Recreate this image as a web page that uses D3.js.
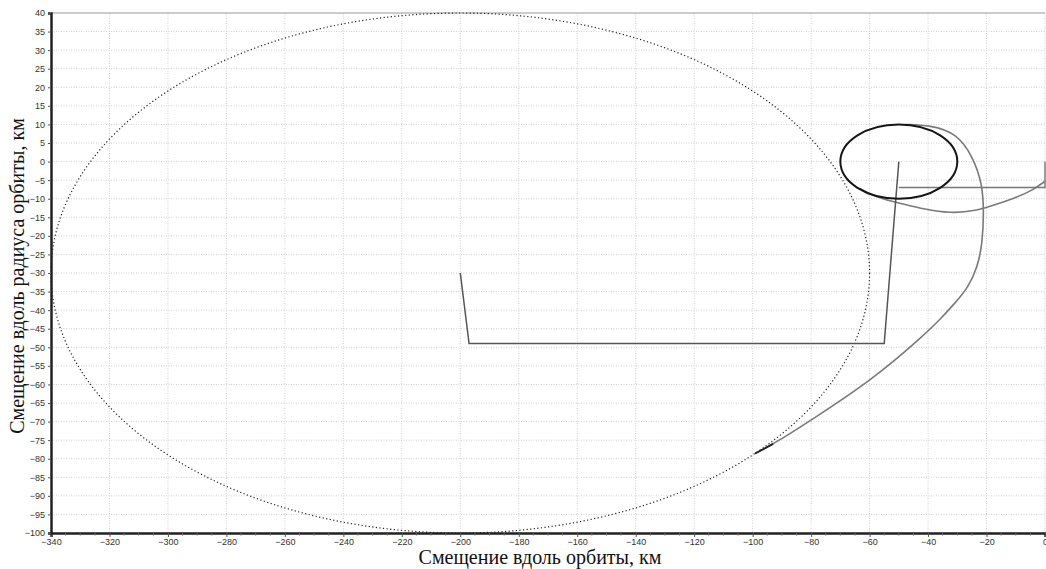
<!DOCTYPE html>
<html>
<head>
    <meta charset="utf-8">
    <title>Смещение</title>
    <style>
        body { margin: 0; background: #fff; }
        .tick text { font-family: "Liberation Sans", Arial, sans-serif; font-size: 9px; fill: #333; }
        .title { font-family: "Liberation Serif", "Times New Roman", serif; font-size: 20px; fill: #111; }
    </style>
</head>
<script src="https://d3js.org/d3.v7.js"></script>
<body>
    <div id="chart"></div>
</body>

<script>

// tick values
var xTicks = [-340, -320, -300, -280, -260, -240, -220, -200, -180, -160, -140, -120, -100, -80, -60, -40, -20, 0];
var yTicks = [40, 35, 30, 25, 20, 15, 10, 5, 0, -5, -10, -15, -20, -25, -30, -35, -40, -45, -50,
              -55, -60, -65, -70, -75, -80, -85, -90, -95, -100];

// large dotted guide ellipse and small solid ellipse (centre, semi-axes in km)
var guideEllipse = { cx: -200, cy: -30, rx: 140, ry: 70 };
var targetEllipse = { cx: -50, cy: 0, rx: 20, ry: 10 };

// transfer path (dark grey)
var transferPath = [[-200, -30], [-197, -49], [-55, -49], [-50, 0]];
// short path at the right end
var endPath = [[-50, -7], [0, -7], [0, 0]];

// big grey arc, from top of small ellipse down to (-100,-79)
var bigArc = [[-47.9, 10.0], [-39.3, 9.8], [-30.1, 7.6], [-24.6, 1.2], [-21.5, -5.9],
              [-20.9, -13.1], [-21.4, -22.0], [-23.1, -28.5], [-26.3, -33.9], [-30.9, -38.2],
              [-35.3, -42.0], [-42.0, -47.2], [-59.2, -58.8], [-79.6, -69.4], [-91.7, -75.5],
              [-99.2, -78.6]];
// dark start piece of that arc
var arcStart = [[-99.2, -78.6], [-96, -77.3], [-93, -76.0]];
// lower grey arc, from small ellipse to x = 0
var lowArc = [[-63.5, -7.2], [-61.6, -8.0], [-56.5, -9.9], [-49.6, -11.2], [-41.1, -12.9], [-32.5, -13.9],
              [-24.0, -13.4], [-15.4, -11.2], [-9.6, -9.6], [-4.2, -7.7], [0, -5.3]];

var width = 1046, height = 569;
var margin = { left: 51, right: 1, top: 13, bottom: 36 };

var svg = d3.select('#chart').append('svg')
    .attr('width', width)
    .attr('height', height);

var x = d3.scaleLinear().domain([-340, 0]).range([margin.left, width - margin.right]);
var y = d3.scaleLinear().domain([-100, 40]).range([height - margin.bottom, margin.top]);

// grid
svg.append('g').selectAll('line')
    .data(xTicks.slice(1))
    .enter().append('line')
    .attr('x1', d => x(d)).attr('x2', d => x(d))
    .attr('y1', y(40)).attr('y2', y(-100))
    .attr('stroke', '#d0d0d0').attr('stroke-dasharray', '1,1.5');

svg.append('g').selectAll('line')
    .data(yTicks.slice(1))
    .enter().append('line')
    .attr('x1', x(-340)).attr('x2', x(0))
    .attr('y1', d => y(d)).attr('y2', d => y(d))
    .attr('stroke', '#d0d0d0').attr('stroke-dasharray', '1,1.5');

// top border
svg.append('line')
    .attr('x1', x(-340)).attr('x2', x(0))
    .attr('y1', y(40)).attr('y2', y(40))
    .attr('stroke', '#999').attr('stroke-width', 1);

// dotted guide ellipse
svg.append('ellipse')
    .attr('cx', x(guideEllipse.cx)).attr('cy', y(guideEllipse.cy))
    .attr('rx', x(guideEllipse.cx + guideEllipse.rx) - x(guideEllipse.cx))
    .attr('ry', y(guideEllipse.cy) - y(guideEllipse.cy + guideEllipse.ry))
    .attr('fill', 'none').attr('stroke', '#222')
    .attr('stroke-width', 1.2).attr('stroke-dasharray', '1.2,2.4');

var line = d3.line().x(d => x(d[0])).y(d => y(d[1]));
var smooth = d3.line().x(d => x(d[0])).y(d => y(d[1])).curve(d3.curveBasis);

svg.append('path').attr('d', smooth(bigArc))
    .attr('fill', 'none').attr('stroke', '#7a7a7a').attr('stroke-width', 1.6);
svg.append('path').attr('d', smooth(lowArc))
    .attr('fill', 'none').attr('stroke', '#7a7a7a').attr('stroke-width', 1.6);
svg.append('path').attr('d', smooth(arcStart))
    .attr('fill', 'none').attr('stroke', '#222').attr('stroke-width', 1.8);

svg.append('path').attr('d', line(endPath))
    .attr('fill', 'none').attr('stroke', '#777').attr('stroke-width', 1.4);
svg.append('path').attr('d', line(transferPath))
    .attr('fill', 'none').attr('stroke', '#555').attr('stroke-width', 1.5);

// small solid ellipse
svg.append('ellipse')
    .attr('cx', x(targetEllipse.cx)).attr('cy', y(targetEllipse.cy))
    .attr('rx', x(targetEllipse.cx + targetEllipse.rx) - x(targetEllipse.cx))
    .attr('ry', y(targetEllipse.cy) - y(targetEllipse.cy + targetEllipse.ry))
    .attr('fill', 'none').attr('stroke', '#151515').attr('stroke-width', 2);

// axes
var xAxis = svg.append('g')
    .attr('transform', 'translate(0,' + y(-100) + ')')
    .call(d3.axisBottom(x).tickValues(xTicks).tickSize(4).tickPadding(2));
xAxis.select('.domain').attr('stroke', '#222').attr('stroke-width', 2.5);
xAxis.selectAll('.tick line').attr('stroke', '#555');

// minor ticks on x axis
svg.append('g').selectAll('line')
    .data(d3.range(-335, 0, 5).filter(d => d % 20 !== 0))
    .enter().append('line')
    .attr('x1', d => x(d)).attr('x2', d => x(d))
    .attr('y1', y(-100)).attr('y2', y(-100) + 2.5)
    .attr('stroke', '#666');

var yAxis = svg.append('g')
    .attr('transform', 'translate(' + x(-340) + ',0)')
    .call(d3.axisLeft(y).tickValues(yTicks).tickSize(3).tickPadding(3));
yAxis.select('.domain').attr('stroke', '#222').attr('stroke-width', 2.5);
yAxis.selectAll('.tick line').attr('stroke', '#555');

// titles
svg.append('text')
    .attr('class', 'title')
    .attr('x', 540).attr('y', 564)
    .attr('text-anchor', 'middle')
    .text('Смещение вдоль орбиты, км');

svg.append('text')
    .attr('class', 'title')
    .attr('transform', 'translate(24,276) rotate(-90)')
    .attr('text-anchor', 'middle')
    .text('Смещение вдоль радиуса орбиты, км');

</script>
</html>
